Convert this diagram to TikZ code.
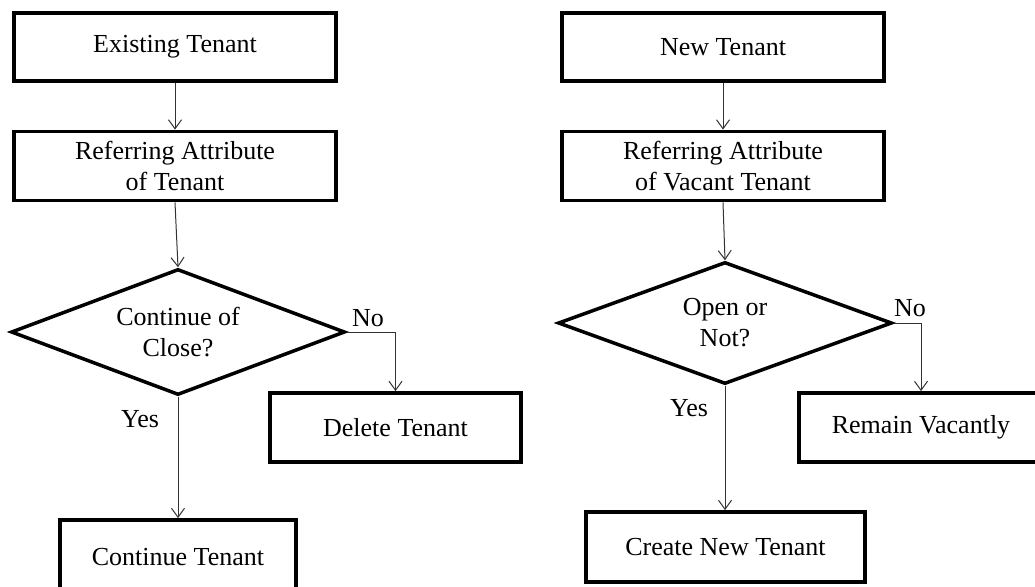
\documentclass[tikz,border=0pt]{standalone}
\usepackage{fontspec}
\setmainfont{Liberation Serif}
\usetikzlibrary{shapes.geometric,arrows.meta}
\begin{document}
\begin{tikzpicture}[x=1pt,y=-1pt,
  every node/.style={font=\fontsize{26}{31}\selectfont, text=black},
  procbox/.style={draw, line width=3.8pt, rectangle, align=center, inner sep=0pt},
  decision/.style={draw, line width=3.5pt, diamond, align=center, inner sep=0pt, aspect=2.65},
  flow/.style={line width=1pt, draw=black!80, -{Straight Barb[length=9pt,width=13pt]}},
  lbl/.style={inner sep=0pt}]
\clip (0,0) rectangle (1035,586);
\fill[white] (0,0) rectangle (1035,586);

% existing tenant branch
\node[procbox, minimum width=322pt, minimum height=68pt] (et) at (175,47) {Existing Tenant};
\node[procbox, minimum width=322pt, minimum height=69pt] (ra) at (175,166) {Referring Attribute\\of Tenant};
\node[decision, minimum width=334pt, minimum height=126pt] (d1) at (178,332) {Continue of\\Close?};
\node[procbox, minimum width=251pt, minimum height=69pt] (dt) at (395.5,427.5) {Delete Tenant};
\node[procbox, minimum width=236pt, minimum height=74pt] (ct) at (178,557) {Continue Tenant};
\node[lbl] (no1) at (368,318) {No};
\node[lbl] (yes1) at (140,419) {Yes};

\draw[flow] (et) -- (ra);
\draw[flow] (ra.south) -- (d1.north);
\draw[flow] (d1.east) -| (dt.north);
\draw[flow] (d1.south) -- (d1.south |- ct.north);

% new tenant branch
\node[procbox, minimum width=322pt, minimum height=68pt] (nt) at (723,47) {New Tenant};
\node[procbox, minimum width=322pt, minimum height=69pt] (rv) at (723,166) {Referring Attribute\\of Vacant Tenant};
\node[decision, minimum width=334pt, minimum height=122pt] (d2) at (725,323) {Open or\\Not?};
\node[procbox, minimum width=244pt, minimum height=69pt] (rm) at (921,427.5) {Remain Vacantly};
\node[procbox, minimum width=279pt, minimum height=70pt] (cn) at (725.5,547) {Create New Tenant};
\node[lbl] (no2) at (910,308) {No};
\node[lbl] (yes2) at (689,408) {Yes};

\draw[flow] (nt) -- (rv);
\draw[flow] (rv.south) -- (d2.north);
\draw[flow] (d2.east) -| (rm.north);
\draw[flow] (d2.south) -- (d2.south |- cn.north);
\end{tikzpicture}
\end{document}
